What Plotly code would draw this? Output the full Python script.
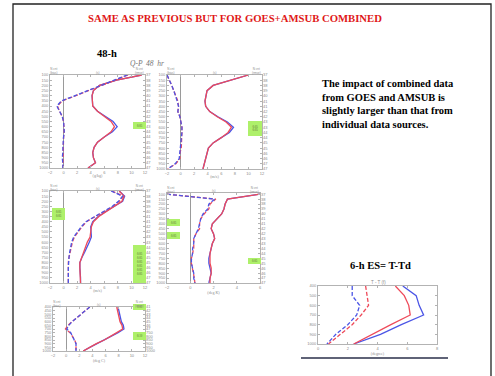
import plotly.graph_objects as go

W, H = 495, 376

# ---------------- data ----------------
P19 = [100, 150, 200, 250, 300, 350, 400, 450, 500, 550, 600, 650, 700, 750, 800, 850, 900, 950, 1000]
P13 = [400, 450, 500, 550, 600, 650, 700, 750, 800, 850, 900, 950, 1000]
P7 = [400, 500, 600, 700, 800, 900, 1000]

p1_red = [11.5, 7.8, 5.3, 4.4, 4.2, 4.2, 4.3, 5.0, 6.0, 7.0, 7.5, 7.0, 6.0, 5.0, 4.5, 4.3, 4.4, 4.7, 3.6]
p1_blue = [11.5, 7.8, 5.3, 4.4, 4.2, 4.2, 4.3, 5.0, 6.1, 7.3, 7.9, 7.2, 6.0, 5.0, 4.5, 4.3, 4.4, 4.7, 3.6]
p1_red_d = [9.5, 7.6, 5.8, 3.8, 1.8, -0.2, -0.9, -0.6, -0.2, 0.0, 0.1, 0.1, 0.0, 0.0, -0.1, -0.1, -0.1, -0.1, -0.1]
p1_blue_d = [9.4, 7.5, 5.7, 3.7, 1.7, -0.3, -1.0, -0.6, -0.2, 0.0, 0.1, 0.1, 0.0, -0.1, -0.1, -0.1, -0.2, -0.1, -0.1]

p2_red = [10.0, 7.2, 4.8, 3.9, 3.7, 3.6, 3.7, 4.3, 5.4, 6.7, 7.5, 7.0, 6.0, 4.8, 4.1, 3.9, 3.8, 3.6, 3.3]
p2_blue = [10.0, 7.2, 4.8, 3.9, 3.7, 3.6, 3.7, 4.3, 5.5, 6.9, 7.8, 7.2, 6.0, 4.8, 4.1, 3.9, 3.8, 3.6, 3.3]
p2_red_d = [-2.0, -1.6, -1.3, -1.0, -0.7, -0.4, -0.3, -0.4, -0.1, 0.1, 0.2, 0.2, 0.2, 0.1, 0.1, -0.1, -0.1, -0.7, -1.9]
p2_blue_d = [-2.0, -1.6, -1.3, -1.0, -0.7, -0.5, -0.3, -0.4, -0.1, 0.1, 0.2, 0.2, 0.1, 0.1, 0.0, -0.1, -0.2, -0.8, -1.9]

p3_red = [8.2, 8.9, 8.6, 7.4, 6.2, 5.2, 4.4, 4.1, 4.0, 3.9, 3.5, 3.2, 2.9, 2.6, 2.4, 2.4, 2.4, 2.5, 2.5]
p3_blue = [8.2, 9.0, 8.7, 7.4, 6.2, 5.1, 4.3, 4.0, 4.0, 4.1, 3.8, 3.5, 3.1, 2.7, 2.4, 2.4, 2.5, 2.5, 2.5]
p3_red_d = [7.1, 8.8, 8.2, 7.3, 6.0, 4.7, 3.4, 2.7, 2.1, 1.6, 1.3, 1.1, 0.9, 0.8, 0.7, 0.7, 0.7, 0.7, 0.7]
p3_blue_d = [7.0, 8.7, 8.1, 7.2, 5.9, 4.6, 3.3, 2.6, 2.0, 1.5, 1.2, 1.0, 0.9, 0.8, 0.7, 0.7, 0.7, 0.7, 0.7]

p4_red = [6.0, 3.2, 3.0, 2.9, 2.7, 2.3, 1.9, 1.8, 2.0, 2.1, 1.9, 1.8, 1.7, 1.7, 1.7, 1.8, 1.8, 1.7, 1.7]
p4_blue = [6.0, 3.2, 3.0, 2.9, 2.7, 2.3, 1.9, 1.8, 2.0, 2.1, 1.9, 1.8, 1.7, 1.6, 1.6, 1.7, 1.8, 1.7, 1.6]
p4_red_d = [-2.0, 2.2, 1.7, 1.6, 1.2, 0.9, 0.8, 0.8, 0.5, 0.3, 0.3, 0.3, 0.2, 0.1, 0.1, 0.2, 0.3, 0.35, 0.4]
p4_blue_d = [-2.0, 2.1, 1.6, 1.5, 1.1, 0.9, 0.8, 0.7, 0.5, 0.3, 0.3, 0.2, 0.2, 0.1, 0.1, 0.2, 0.3, 0.3, 0.4]

p5_red = [7.7, 7.8, 7.9, 8.0, 8.2, 8.5, 8.6, 7.7, 6.8, 5.8, 4.6, 3.6, 2.6]
p5_blue = [7.9, 8.0, 8.1, 8.2, 8.4, 8.7, 8.8, 7.9, 6.9, 5.9, 4.7, 3.6, 2.6]
p5_red_d = [3.6, 2.9, 2.2, 1.5, 0.9, 0.3, -0.1, 0.6, 1.0, 1.3, 1.5, 1.5, 1.5]
p5_blue_d = [3.6, 2.9, 2.2, 1.5, 0.9, 0.4, 0.1, 0.7, 1.0, 1.3, 1.5, 1.5, 1.5]

p6_red = [5.2, 5.8, 6.1, 6.2, 4.9, 3.6, 2.4]
p6_blue = [5.7, 6.6, 6.8, 7.1, 5.6, 4.2, 2.4]
p6_red_d = [3.2, 3.3, 3.4, 2.9, 2.3, 1.5, 0.7]
p6_blue_d = [2.3, 2.3, 2.8, 2.6, 2.0, 1.2, 0.6]

cnt19 = ["37", "38", "38", "39", "40", "41", "41", "42", "42", "43", "43", "44", "44", "45", "45", "46", "46", "47", "47"]
cnt7 = ["41", "42", "43", "44", "45", "46", "47"]
xt_wide = [-2, 0, 2, 4, 6, 8, 10, 12]
xt_narrow = [-2, 0, 2, 4, 6]
xt_six = [0, 2, 4, 6, 8]

title_text = "SAME AS PREVIOUS BUT FOR GOES+AMSUB COMBINED"
note_text = ("The impact of combined data<br>from GOES and AMSUB is<br>"
             "slightly larger than that from<br>individual data sources.")

# ---------------- layout helpers ----------------
def xd(x0, x1):
    return [x0 / W, x1 / W]

def yd(y0, y1):
    return [1 - y1 / H, 1 - y0 / H]

RED = "#ee4a5a"
BLUE = "#4b55e6"
GRAY = "#8a8a8a"
FRAME = "#b3b3b3"

# panel: (xpix, ypix, xrange, xticks, plevels, yrange, series, right labels, xtitle)
panels = [
    ((50, 145), (75, 168), [-2, 12], xt_wide, P19, [1000, 100],
     (p1_red, p1_blue, p1_red_d, p1_blue_d), cnt19, "(g/kg)"),
    ((167, 262), (75, 169), [-2, 12], xt_wide, P19, [1000, 100],
     (p2_red, p2_blue, p2_red_d, p2_blue_d), cnt19, "(m/s)"),
    ((50, 145), (191, 283), [-2, 12], xt_wide, P19, [1000, 100],
     (p3_red, p3_blue, p3_red_d, p3_blue_d), cnt19, "(m/s)"),
    ((167, 260), (193, 283), [-2, 6], xt_narrow, P19, [1000, 88],
     (p4_red, p4_blue, p4_red_d, p4_blue_d), cnt19, "(deg K)"),
    ((53, 145), (307, 351), [-2, 12], xt_wide, P13, [1000, 400],
     (p5_red, p5_blue, p5_red_d, p5_blue_d), cnt7, "(deg C)"),
    ((318, 437), (286, 344), [0, 8], xt_six, P7, [1000, 400],
     (p6_red, p6_blue, p6_red_d, p6_blue_d), None, "(degree)"),
]

fig = go.Figure()
layout = dict(
    width=W, height=H, margin=dict(l=0, r=0, t=0, b=0),
    paper_bgcolor="white", plot_bgcolor="white", showlegend=False,
    font=dict(family="Liberation Serif"),
)

tickfont = dict(size=4, color=GRAY, family="Liberation Sans")
extra_axis = 7
for i, (xp, yp, xr, xt, plev, yr, ser, rlab, xtitle) in enumerate(panels, start=1):
    xa = "x" if i == 1 else f"x{i}"
    ya = "y" if i == 1 else f"y{i}"
    red, blue, red_d, blue_d = ser
    for vals, col, dash in ((blue, BLUE, "solid"), (red, RED, "solid"),
                            (red_d, RED, "4px,2px"), (blue_d, BLUE, "4px,2px")):
        fig.add_trace(go.Scatter(x=vals, y=plev, mode="lines", xaxis=xa, yaxis=ya,
                                 line=dict(color=col, width=1.3, dash=dash),
                                 hoverinfo="skip"))
    layout[f"xaxis{'' if i == 1 else i}"] = dict(
        domain=xd(*xp), anchor=ya, range=xr, tickvals=xt, showgrid=False,
        showline=True, mirror="ticks", linecolor=FRAME, linewidth=1,
        ticks="inside", ticklen=2, tickcolor=FRAME, tickfont=tickfont,
        zeroline=True, zerolinecolor="#9a9a9a", zerolinewidth=1,
        title=dict(text=xtitle, font=dict(size=4, color=GRAY), standoff=0),
        automargin=False,
    )
    layout[f"yaxis{'' if i == 1 else i}"] = dict(
        domain=yd(*yp), anchor=xa, range=yr, tickvals=plev, showgrid=False,
        showline=True, mirror="ticks", linecolor=FRAME, linewidth=1,
        ticks="inside", ticklen=2, tickcolor=FRAME, tickfont=tickfont,
        zeroline=False, automargin=False,
    )
    if rlab is not None:
        yk = f"yaxis{extra_axis}"
        layout[yk] = dict(
            overlaying=ya, side="right", anchor=xa, range=yr, tickvals=plev,
            ticktext=rlab, showgrid=False, showline=False, ticks="",
            tickfont=tickfont, zeroline=False, automargin=False,
        )
        fig.add_trace(go.Scatter(x=[None], y=[None], xaxis=xa, yaxis=f"y{extra_axis}",
                                 mode="lines", hoverinfo="skip"))
        extra_axis += 1

annotations = []
def ann(text, px, py, size, color="black", bold=False, italic=False, xanchor="center",
        family="Liberation Serif", align="center"):
    if bold:
        text = f"<b>{text}</b>"
    if italic:
        text = f"<i>{text}</i>"
    annotations.append(dict(text=text, x=px / W, y=1 - py / H, xref="paper", yref="paper",
                            showarrow=False, xanchor=xanchor, yanchor="middle",
                            font=dict(size=size, color=color, family=family), align=align))

ann(title_text, 235, 18, 10.7, color="#e01818", bold=True)
ann("48-h", 107, 54, 10.5, bold=True)
ann("Q-P  48  hr", 147, 63, 7.5, color="#777777", italic=True)
ann(note_text, 320, 104, 10.5, bold=True, xanchor="left", align="left")
ann("6-h ES= T-Td", 380, 265, 10.5, bold=True)
ann("T - T (f)", 378, 282, 4.5, color=GRAY, family="Liberation Sans")

# tiny panel header labels
for (xp, yp, *_rest), lab in zip(panels[:5], ["(s)", "(s)", "(s)", "(s)", "(s)"]):
    ann("N cnt<br>(bias)", xp[0] + 4, yp[0] - 3.5, 3, color=GRAY, family="Liberation Sans")
    ann(lab, (xp[0] + xp[1]) / 2, yp[0] - 2.5, 3, color=GRAY, family="Liberation Sans")
    ann("N cnt<br>(rmse)", xp[1] - 6, yp[0] - 3.5, 3, color=GRAY, family="Liberation Sans")

layout["annotations"] = annotations

GREEN = "#aef06a"
boxes = [
    (133, 122, 146, 129, "0.05"),
    (248, 121, 262, 136, "0.05<br>0.05"),
    (52, 208, 65, 220, "0.05<br>0.05"),
    (133, 245, 146, 283, "0.05<br>0.05<br>0.05<br>0.05<br>0.05<br>0.05"),
    (167, 219, 180, 226, "0.05"),
    (167, 232, 180, 239, "0.05"),
    (248, 258, 261, 264, "0.05"),
    (133, 304, 146, 310, "0.05"),
    (133, 332, 146, 340, "0.10"),
]
shapes = []
for x0, y0, x1, y1, t in boxes:
    shapes.append(dict(type="rect", xref="paper", yref="paper",
                       x0=x0 / W, x1=x1 / W, y0=1 - y1 / H, y1=1 - y0 / H,
                       fillcolor=GREEN, line=dict(width=0), layer="above",
                       label=dict(text=t, font=dict(size=3, color="#556633"))))
# slide frame
shapes.append(dict(type="rect", xref="paper", yref="paper",
                   x0=13 / W, x1=491 / W, y0=1 - 379 / H, y1=1 - 4 / H,
                   line=dict(color="#222222", width=1.3), fillcolor="rgba(0,0,0,0)"))
# underline under bottom-right panel
shapes.append(dict(type="line", xref="paper", yref="paper",
                   x0=301 / W, x1=448 / W, y0=1 - 358 / H, y1=1 - 358 / H,
                   line=dict(color="#2a2f4a", width=1.5)))
layout["shapes"] = shapes

fig.update_layout(**layout)
fig.write_html(
    "out.html",
    config={"displayModeBar": False, "staticPlot": True},
    post_script="document.body.style.margin='0';document.body.style.overflow='hidden';",
)
